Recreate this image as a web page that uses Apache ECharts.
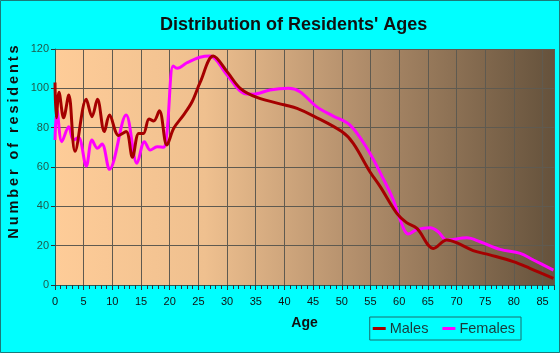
<!DOCTYPE html>
<html><head><meta charset="utf-8">
<script src="https://cdn.jsdelivr.net/npm/echarts@6/dist/echarts.min.js"></script>
<style>html,body{margin:0;padding:0;background:#00ffff;}#c{width:560px;height:353px;}</style>
</head><body><div id="c"></div>
<script>
var maleAges = [0,0.23,0.7,1.5,2.4,3.5,5.45,6.45,7.4,8.6,9.5,11.1,12.4,13.5,14.6,15.4,16.4,17.2,18.2,19.5,20.7,22.4,23.9,25.3,27.6,30,32.3,35.2,40.1,42.2,45.1,50,52,54.9,56.7,59.6,61.3,63.1,66,68.3,70,72.9,75.8,79.9,82.8,86.9];
var maleVals = [103,85,98,85,96.6,68,94.4,85.6,94.4,78,86.4,76,78,65,77,77,84.4,83.4,88.6,71.2,79.7,86.4,93.2,103,116.4,108.5,100,95.4,91.5,89.8,85.9,78,72,57.6,50,36.4,31.7,28.8,18.6,22.9,21.5,17.5,15.3,11.9,8.5,3.4];
var femaleAges = [0,0.35,1.2,2.4,3.2,4.1,5.45,6.45,7.4,8.2,9.5,12.4,14.3,15.6,16.6,17.8,18.9,19.5,20.6,21.3,23,25.3,27,30,32.9,34.6,37.5,40.7,42.7,45.6,48.5,51.4,54.4,57.2,59,60.2,61.6,63,65.4,66.8,68.3,71.8,74.1,77.6,81.1,83.4,86.9];
var femaleVals = [73.7,89,72.9,80.5,73.7,75,60.5,73.7,69.5,71.7,58.8,86.4,61.9,72.9,68.6,70.3,70,77,111.4,110.2,113,115.8,116.4,106.8,97.5,97,99.2,100,98.3,90.7,85.9,81.4,69.5,54.2,43.2,33,25.9,28,29.1,27.1,22.9,24,22,18.1,16.1,12.7,7.6];
var xTicks = [0,5,10,15,20,25,30,35,40,45,50,55,60,65,70,75,80,85];
var yTicks = [0,20,40,60,80,100,120];

function pairs(a,b){return a.map(function(v,i){return [v,b[i]];});}
function spaced(s,sp){return s.split('').join(sp);}
var chart = echarts.init(document.getElementById('c'));
chart.setOption({
  backgroundColor:'#00ffff',
  animation:false,
  graphic:[
    {type:'rect',shape:{x:0.5,y:0.5,width:559,height:352},style:{fill:null,stroke:'#1a7a7a',lineWidth:1},silent:true},
    {type:'text',x:14,y:142,rotation:Math.PI/2,silent:true,
      style:{text:spaced('Number of residents','\u2009'),fontFamily:'Liberation Sans',fontWeight:'bold',fontSize:14.5,fill:'#111',align:'center',verticalAlign:'middle'}}
  ],
  title:{text:"Distribution of Residents' Ages",left:155,top:11,textStyle:{fontFamily:'Liberation Sans',fontWeight:'bold',fontSize:18,color:'#111'}},
  grid:{left:55,right:6,top:49,bottom:68,show:true,borderWidth:0,
    backgroundColor:new echarts.graphic.LinearGradient(0,0,1,0,[{offset:0,color:'#fecc98'},{offset:0.3,color:'#efc08f'},{offset:0.6,color:'#b38f6c'},{offset:1,color:'#65523c'}])},
  legend:{bottom:13,right:39,orient:'horizontal',itemWidth:13,itemHeight:3,itemGap:14,
    borderColor:'#1a6e6e',borderWidth:1,padding:[4,6,4,3],icon:'rect',
    textStyle:{fontFamily:'Liberation Sans',fontSize:14.5,color:'#1a3a3a',padding:[0,0,0,-1]},
    data:['Males','Females']},
  xAxis:{type:'value',min:0,max:87,interval:5,name:'Age',nameLocation:'middle',nameGap:31,
    nameTextStyle:{fontFamily:'Liberation Sans',fontWeight:'bold',fontSize:14,color:'#111'},
    axisLine:{show:true,lineStyle:{color:'#225c5c',width:1}},
    axisTick:{show:true,length:5,lineStyle:{color:'#333'}},
    minorTick:{show:true,splitNumber:5,length:4,lineStyle:{color:'#333'}},
    axisLabel:{fontFamily:'Liberation Sans',fontSize:11,color:'#111',margin:11,
      formatter:function(v){return xTicks.indexOf(v)>=0?String(v):'';}},
    splitLine:{show:true,lineStyle:{color:'#5f5a50',width:1}}},
  yAxis:{type:'value',min:0,max:120,interval:20,
    axisLine:{show:true,lineStyle:{color:'#225c5c'}},
    axisTick:{show:true,length:4,lineStyle:{color:'#333'}},
    axisLabel:{fontFamily:'Liberation Sans',fontSize:11,color:'#1f5a4a',margin:6,
      formatter:function(v){return yTicks.indexOf(v)>=0?String(v):'';}},
    splitLine:{show:true,lineStyle:{color:'#5f5a50',width:1}}},
  series:[
    {name:'Males',type:'line',smooth:0.35,showSymbol:false,data:pairs(maleAges,maleVals),color:'#a50000',lineStyle:{width:3,color:'#a50000'},z:3},
    {name:'Females',type:'line',smooth:0.35,showSymbol:false,data:pairs(femaleAges,femaleVals),color:'#ff00ff',lineStyle:{width:3,color:'#ff00ff'},z:2}
  ]
});
</script></body></html>
